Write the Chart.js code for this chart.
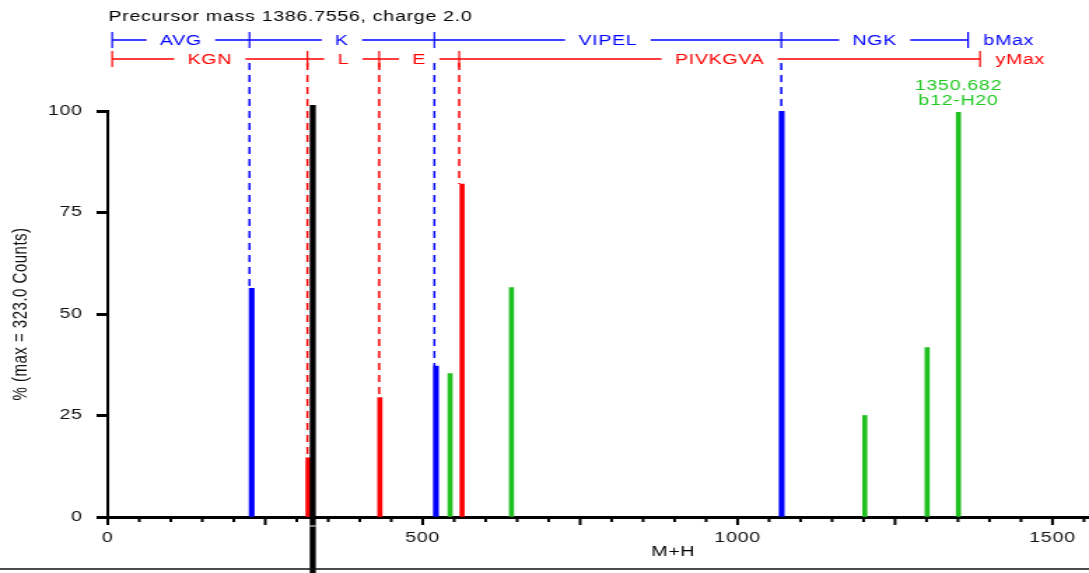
<!DOCTYPE html>
<html>
<head>
<meta charset="utf-8">
<script src="https://cdn.jsdelivr.net/npm/chart.js@4.4.1/dist/chart.umd.min.js"></script>
<style>
  html, body { margin: 0; padding: 0; background: #fff; overflow: hidden; }
  /* the spectrum is drawn narrow and widened to the page width */
  #wrap { width: 778px; height: 573px; transform: scaleX(1.39974); transform-origin: 0 0; }
</style>
</head>
<body>
<div id="wrap"><canvas id="spectrumChart" width="778" height="573"></canvas></div>
<script>
// Precursor / scan info
const precursorMass = '1386.7556';
const precursorCharge = '2.0';
const maxCounts = '323.0';

// b-ion ladder: M+H at each step and the residues between steps
const bSteps = [7, 225, 518.6, 1069.4, 1366];
const bResidues = ['AVG', 'K', 'VIPEL', 'NGK'];
// y-ion ladder
const ySteps = [7, 317, 431, 558, 1385];
const yResidues = ['KGN', 'L', 'E', 'PIVKGVA'];

// matched b ions (M+H, % of max)
const bMz = [228.5, 521, 1070];
const bInt = [56.3, 37.2, 100];
// matched y ions
const yMz = [318, 432, 562.5];
const yInt = [14.6, 29.4, 82];
// other peaks
const otherMz = [543.5, 641, 1202, 1301, 1350.682];
const otherInt = [35.3, 56.5, 25, 41.7, 99.7];

// labelled peak
const labelMz = 1350.682;
const labelIon = 'b12-H20';

// cursor position
const cursorMz = 325.5;

const yTickValues = [0, 25, 50, 75, 100];
const xLabelValues = [0, 500, 1000, 1500];

const FONT = '"Liberation Sans", Arial, sans-serif';
const SPACING = '0.5px';
const BLUE = '#0000ff';
const RED = '#ff0000';
const GREEN = '#20c020';

function drawLadder(ctx, xs, y, steps, names, color, endText) {
    const px = steps.map(m => xs.getPixelForValue(m));
    ctx.strokeStyle = color;
    ctx.fillStyle = color;
    ctx.font = '14px ' + FONT;
    ctx.textAlign = 'center';
    ctx.textBaseline = 'middle';
    ctx.lineWidth = 1.6;
    for (let i = 0; i < names.length; i++) {
        const a = px[i], b = px[i + 1], mid = (a + b) / 2;
        const half = ctx.measureText(names[i]).width / 2 + 9.5;
        ctx.beginPath();
        ctx.moveTo(a, y); ctx.lineTo(mid - half, y);
        ctx.moveTo(mid + half, y); ctx.lineTo(b, y);
        ctx.stroke();
        ctx.fillText(names[i], mid, y + 1);
    }
    ctx.lineWidth = 1.2;
    px.forEach(x => {
        ctx.beginPath();
        ctx.moveTo(x, y - 8);
        ctx.lineTo(x, y + 8);
        ctx.stroke();
    });
    ctx.textAlign = 'left';
    ctx.fillText(endText, px[px.length - 1] + 11, y + 1);
}

function drawDrops(ctx, xs, ys, steps, ints, color) {
    ctx.save();
    ctx.strokeStyle = color;
    ctx.lineWidth = 1.5;
    ctx.setLineDash([7, 5]);
    for (let i = 1; i < steps.length - 1; i++) {
        const x = xs.getPixelForValue(steps[i]);
        ctx.beginPath();
        ctx.moveTo(x, 63);
        ctx.lineTo(x, ys.getPixelForValue(ints[i - 1]));
        ctx.stroke();
    }
    ctx.restore();
}

const spectrumDecor = {
    id: 'spectrumDecor',
    beforeLayout(chart) { chart.ctx.letterSpacing = SPACING; },
    beforeDraw(chart) { chart.ctx.letterSpacing = SPACING; },
    afterDatasetsDraw(chart) {
        const ctx = chart.ctx;
        const xs = chart.scales.x, ys = chart.scales.y;
        const base = ys.getPixelForValue(0);
        ctx.save();

        // x ticks: long every 250, short every 50
        ctx.strokeStyle = '#000';
        ctx.lineWidth = 2;
        for (let v = 0; v <= xs.max; v += 50) {
            const x = xs.getPixelForValue(v);
            const len = v % 250 === 0 ? 8 : 5;
            ctx.beginPath();
            ctx.moveTo(x, base);
            ctx.lineTo(x, base + len);
            ctx.stroke();
        }

        drawDrops(ctx, xs, ys, bSteps, bInt, BLUE);
        drawDrops(ctx, xs, ys, ySteps, yInt, RED);
        drawLadder(ctx, xs, 40, bSteps, bResidues, BLUE, 'bMax');
        drawLadder(ctx, xs, 59, ySteps, yResidues, RED, 'yMax');

        // header
        ctx.fillStyle = '#000';
        ctx.font = '14px ' + FONT;
        ctx.textAlign = 'left';
        ctx.textBaseline = 'middle';
        ctx.fillText('Precursor mass ' + precursorMass + ', charge ' + precursorCharge, xs.getPixelForValue(0) + 0.5, 17);

        // x axis title
        ctx.textAlign = 'center';
        ctx.fillText('M+H', 481, 552);

        // peak annotation
        const lx = xs.getPixelForValue(labelMz);
        ctx.fillStyle = '#22c822';
        ctx.fillText(labelMz.toFixed(3), lx, 86);
        ctx.fillText(labelIon, lx, 101);

        // cursor
        const cx = xs.getPixelForValue(cursorMz);
        ctx.fillStyle = '#000';
        ctx.fillRect(cx - 2.15, 105, 4.3, 468);
        ctx.fillStyle = '#fff';
        ctx.fillRect(cx - 2.15, 525.5, 4.3, 1);

        // bottom rule
        ctx.strokeStyle = '#111';
        ctx.lineWidth = 1.5;
        ctx.beginPath();
        ctx.moveTo(0, 569);
        ctx.lineTo(chart.width, 569);
        ctx.stroke();

        ctx.restore();
    }
};

const toPoints = (xs, vs) => xs.map((x, i) => ({ x: x, y: vs[i] }));

const spectrumCtx = document.getElementById('spectrumChart').getContext('2d');
const spectrumChart = new Chart(spectrumCtx, {
    type: 'bar',
    data: {
        datasets: [
            { label: 'b', data: toPoints(bMz, bInt), backgroundColor: BLUE, barThickness: 3.5 },
            { label: 'y', data: toPoints(yMz, yInt), backgroundColor: RED, barThickness: 3 },
            { label: 'other', data: toPoints(otherMz, otherInt), backgroundColor: GREEN, barThickness: 3 }
        ]
    },
    options: {
        responsive: false,
        animation: false,
        devicePixelRatio: 1,
        layout: { padding: { top: 111, left: 0, right: 0, bottom: 0 } },
        datasets: { bar: { grouped: false, borderWidth: 0 } },
        plugins: {
            legend: { display: false },
            tooltip: { enabled: false }
        },
        scales: {
            x: {
                type: 'linear',
                min: 0,
                max: 1558,
                offset: false,
                grid: { display: false, offset: false },
                border: { display: true, color: '#000', width: 3 },
                ticks: {
                    stepSize: 50,
                    autoSkip: false,
                    includeBounds: false,
                    maxRotation: 0,
                    padding: 5,
                    color: '#111',
                    font: { family: FONT, size: 14 },
                    callback: v => xLabelValues.includes(v) ? String(v) : ''
                },
                afterFit: s => { s.height = 56; s.paddingLeft = 0; s.paddingRight = 0; }
            },
            y: {
                min: 0,
                max: 100,
                afterBuildTicks: s => { s.ticks = yTickValues.map(v => ({ value: v })); },
                grid: {
                    drawOnChartArea: false,
                    drawTicks: true,
                    tickLength: 8,
                    tickWidth: 3,
                    tickColor: '#000'
                },
                border: { display: true, color: '#000', width: 2 },
                ticks: {
                    padding: 10,
                    color: '#111',
                    font: { family: FONT, size: 14 }
                },
                title: {
                    display: true,
                    text: '% (max = ' + maxCounts + ' Counts)',
                    color: '#111',
                    font: { family: FONT, size: 15 },
                    padding: { top: 6, bottom: 0 }
                },
                afterFit: s => { s.width = 77; }
            }
        }
    },
    plugins: [spectrumDecor]
});
</script>
</body>
</html>
